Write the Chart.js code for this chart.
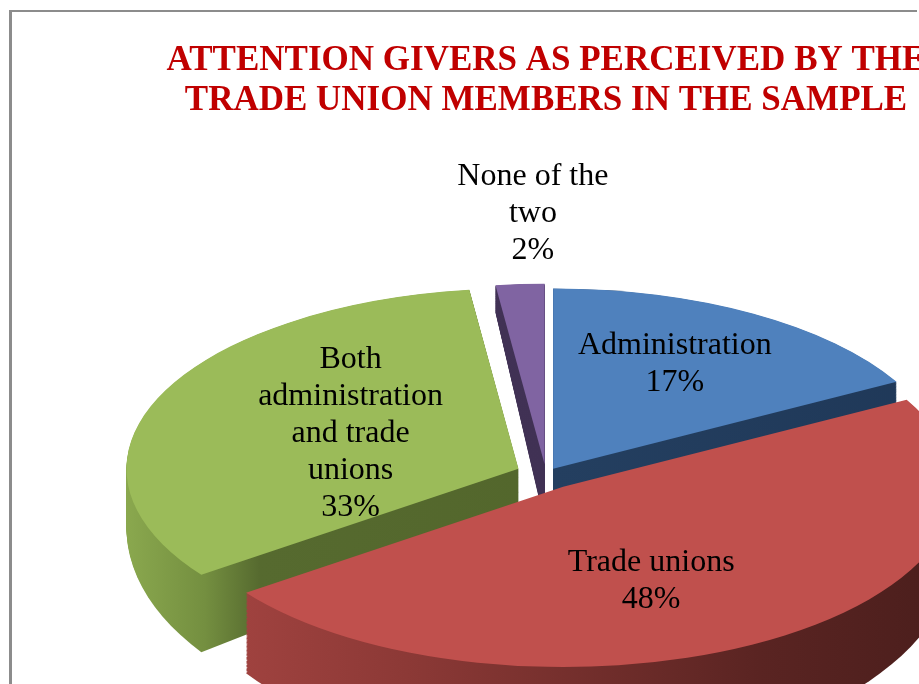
<!DOCTYPE html>
<html><head><meta charset="utf-8">
<script src="https://cdn.jsdelivr.net/npm/chart.js@4/dist/chart.umd.min.js"></script>
<style>
html,body{margin:0;padding:0;background:#fff;overflow:hidden;width:919px;height:684px;}
#frame{position:absolute;left:9px;top:10px;width:905px;height:700px;border-left:3px solid #8c8c8c;border-top:2px solid #8c8c8c;}
#c{position:absolute;left:10px;top:11px;}
</style></head><body>
<div id="frame"></div>
<canvas id="c" width="1072" height="816"></canvas>
<script>
const titleLines = ['ATTENTION GIVERS AS PERCEIVED BY THE', 'TRADE UNION MEMBERS IN THE SAMPLE'];
const categories = ['Administration', 'Trade unions', 'Both administration and trade unions', 'None of the two'];
const percentages = [17, 48, 33, 2];

const topColors = ['#4F81BD', '#C0504D', '#9BBB59', '#8064A2'];
const sideStops = [
  [[0, '#3a5f8c'], [0.5, '#243F60'], [1, '#1f3858']],
  [[0, '#a84643'], [0.3, '#8c3936'], [0.75, '#5a2422'], [1, '#4a1e1c']],
  [[0, '#8aa84e'], [0.1, '#748f40'], [0.17, '#566a2f'], [1, '#4f6228']],
  [[0, '#46365a'], [1, '#3a2c4e']]
];

function wrapText(ctx, text, maxW) {
  const words = text.split(' ');
  const lines = [];
  let cur = '';
  for (const w of words) {
    const t = cur ? cur + ' ' + w : w;
    if (cur && ctx.measureText(t).width > maxW) { lines.push(cur); cur = w; }
    else cur = t;
  }
  if (cur) lines.push(cur);
  return lines;
}

const pie3d = {
  id: 'pie3d',
  beforeDatasetsDraw(chart, args, opts) {
    const ctx = chart.ctx;
    const meta = chart.getDatasetMeta(0);
    const k = opts.tilt, depth = opts.depth, dk = opts.perspective;
    const items = meta.data.map((el, i) => {
      const p = el.getProps(['x', 'y', 'startAngle', 'endAngle', 'outerRadius'], true);
      const mid = (p.startAngle + p.endAngle) / 2;
      const off = el.options.offset || 0;
      return {i, p, mid, ox: Math.cos(mid) * off, oy: Math.sin(mid) * off};
    });
    items.sort((a, b) => a.oy - b.oy);
    const path = (p, cx, cy) => {
      ctx.beginPath();
      ctx.moveTo(cx, cy);
      ctx.arc(cx, cy, p.outerRadius, p.startAngle, p.endAngle);
      ctx.closePath();
    };
    for (const it of items) {
      const p = it.p;
      const cx = p.x + it.ox, cy = p.y + it.oy;
      const g = ctx.createLinearGradient(cx - p.outerRadius, 0, cx + p.outerRadius, 0);
      for (const s of sideStops[it.i]) g.addColorStop(s[0], s[1]);
      for (let d = depth; d >= 1; d--) {
        const kd = k + dk * d / depth;
        ctx.save();
        ctx.translate(0, p.y + d);
        ctx.scale(1, kd);
        ctx.translate(0, -p.y);
        path(p, cx, cy);
        ctx.fillStyle = g;
        ctx.fill();
        ctx.restore();
      }
      ctx.save();
      ctx.translate(0, p.y);
      ctx.scale(1, k);
      ctx.translate(0, -p.y);
      path(p, cx, cy);
      ctx.fillStyle = topColors[it.i];
      ctx.fill();
      ctx.restore();
    }
    return false;
  },
  afterDraw(chart, args, opts) {
    const ctx = chart.ctx;
    const meta = chart.getDatasetMeta(0);
    const k = opts.tilt;
    ctx.save();
    ctx.font = opts.labelFont;
    ctx.fillStyle = '#000';
    ctx.textAlign = 'center';
    ctx.textBaseline = 'middle';
    meta.data.forEach((el, i) => {
      const p = el.getProps(['x', 'y', 'startAngle', 'endAngle', 'outerRadius'], true);
      const mid = (p.startAngle + p.endAngle) / 2;
      const off = el.options.offset || 0;
      const f = opts.labelRadius[i];
      const ux = p.x + Math.cos(mid) * (off + p.outerRadius * f);
      const uy = p.y + Math.sin(mid) * (off + p.outerRadius * f);
      const nudge = opts.labelNudge[i];
      const X = ux + nudge[0], Y = p.y + (uy - p.y) * k + nudge[1];
      const lines = wrapText(ctx, chart.data.labels[i], opts.wrapWidth);
      lines.push(chart.data.datasets[0].data[i] + '%');
      const lh = opts.lineHeight;
      const y0 = Y - (lines.length - 1) * lh / 2;
      lines.forEach((t, j) => ctx.fillText(t, X, y0 + j * lh));
    });
    ctx.restore();
  }
};

new Chart(document.getElementById('c'), {
  type: 'pie',
  data: {
    labels: categories,
    datasets: [{
      data: percentages,
      backgroundColor: topColors,
      borderWidth: 0,
      offset: [14, 32, 30, 22]
    }]
  },
  options: {
    responsive: false,
    animation: false,
    radius: 392,
    layout: {padding: 0},
    plugins: {
      legend: {display: false},
      tooltip: {enabled: false},
      title: {
        display: true,
        text: titleLines,
        color: '#C00000',
        font: {family: "'Liberation Serif', 'Times New Roman', serif", size: 35, weight: 'bold', lineHeight: 1.15},
        padding: {top: 30, bottom: 0}
      },
      pie3d: {
        tilt: 0.46,
        depth: 60,
        perspective: 0.08,
        labelRadius: [0.62, 0.5, 0.45, 1.37],
        labelNudge: [[-2, -8], [-17, 18], [-6, -3], [22, -4]],
        wrapWidth: 195,
        lineHeight: 37,
        labelFont: "32px 'Liberation Serif', 'Times New Roman', serif"
      }
    }
  },
  plugins: [pie3d]
});
</script>
</body></html>
